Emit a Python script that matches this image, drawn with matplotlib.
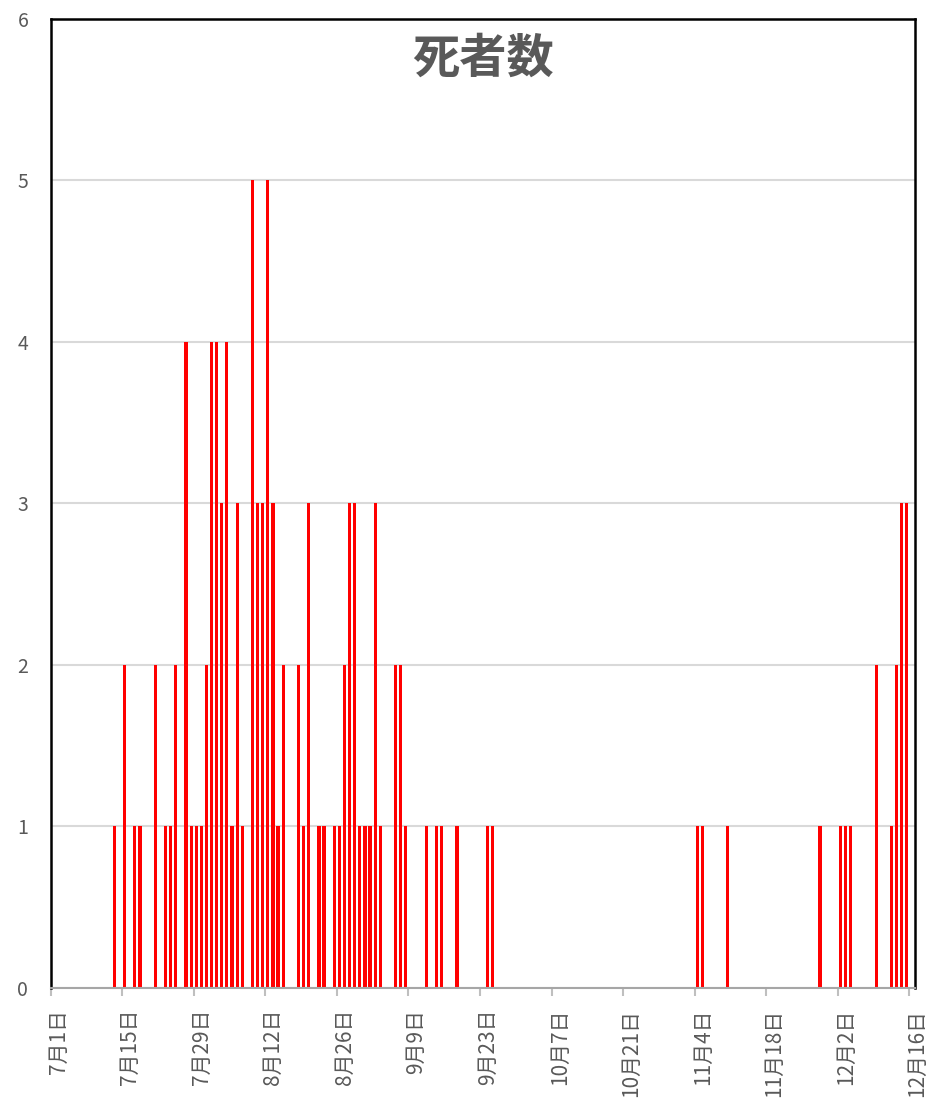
import matplotlib
matplotlib.use("Agg")
import matplotlib.pyplot as plt
import matplotlib.transforms as mtransforms
import pandas as pd

plt.rcParams['font.family'] = ['Noto Sans CJK JP', 'DejaVu Sans']

# daily deaths (only days with at least one death)
dates = ["7/13", "7/15", "7/17", "7/18", "7/21", "7/23", "7/24", "7/25", "7/27", "7/28",
         "7/29", "7/30", "7/31", "8/1", "8/2", "8/3", "8/4", "8/5", "8/6", "8/7",
         "8/9", "8/10", "8/11", "8/12", "8/13", "8/14", "8/15", "8/18", "8/19", "8/20",
         "8/22", "8/23", "8/25", "8/26", "8/27", "8/28", "8/29", "8/30", "8/31", "9/1",
         "9/2", "9/3", "9/6", "9/7", "9/8", "9/12", "9/14", "9/15", "9/18", "9/24",
         "9/25", "11/4", "11/5", "11/10", "11/28", "12/2", "12/3", "12/4", "12/9", "12/12",
         "12/13", "12/14", "12/15"]
deaths = [1, 2, 1, 1, 2, 1, 1, 2, 4, 1,
          1, 1, 2, 4, 4, 3, 4, 1, 3, 1,
          5, 3, 3, 5, 3, 1, 2, 2, 1, 3,
          1, 1, 1, 1, 2, 3, 3, 1, 1, 1,
          3, 1, 2, 2, 1, 1, 1, 1, 1, 1,
          1, 1, 1, 1, 1, 1, 1, 1, 2, 1,
          2, 3, 3]

start = pd.Timestamp("2020-07-01")
end = pd.Timestamp("2020-12-16")
tick_dates = pd.date_range(start, end, freq="14D")
tick_labels = [f"{d.month}月{d.day}日" for d in tick_dates]

day_idx = [(pd.Timestamp("2020/" + d) - start).days for d in dates]
n_days = (end - start).days + 1

fig = plt.figure(figsize=(9.29, 11.17), dpi=100)
ax = fig.add_axes([0.0544, 0.1155, 0.93, 0.8675])

ax.bar([i + 0.5 for i in day_idx], deaths, width=0.62, color="#ff0000", zorder=3)

ax.set_xlim(0, n_days)
ax.set_ylim(0, 6)
ax.set_yticks(range(0, 7))
ax.yaxis.grid(True, color="#d9d9d9", linewidth=1.5, zorder=0)
ax.tick_params(axis="y", length=0, pad=16, labelsize=14, labelcolor="#595959")

ax.set_xticks([(d - start).days for d in tick_dates])
ax.set_xticklabels(tick_labels, rotation=90, fontsize=15, color="#595959", va="top")
ax.tick_params(axis="x", length=6, width=1.5, color="#bfbfbf", pad=9)
offset = mtransforms.ScaledTranslation(8 / 100, 0, fig.dpi_scale_trans)
for lab in ax.get_xticklabels():
    lab.set_transform(lab.get_transform() + offset)

for s in ["left", "top", "right"]:
    ax.spines[s].set_color("black")
    ax.spines[s].set_linewidth(1.8)
ax.spines["bottom"].set_color("#a6a6a6")
ax.spines["bottom"].set_linewidth(1.5)
ax.spines["bottom"].set_zorder(4)

ax.text(0.5, 0.959, "死者数", transform=ax.transAxes, ha="center", va="center",
        fontsize=34, fontweight="bold", color="#595959")

fig.savefig("out.png", dpi=100)
